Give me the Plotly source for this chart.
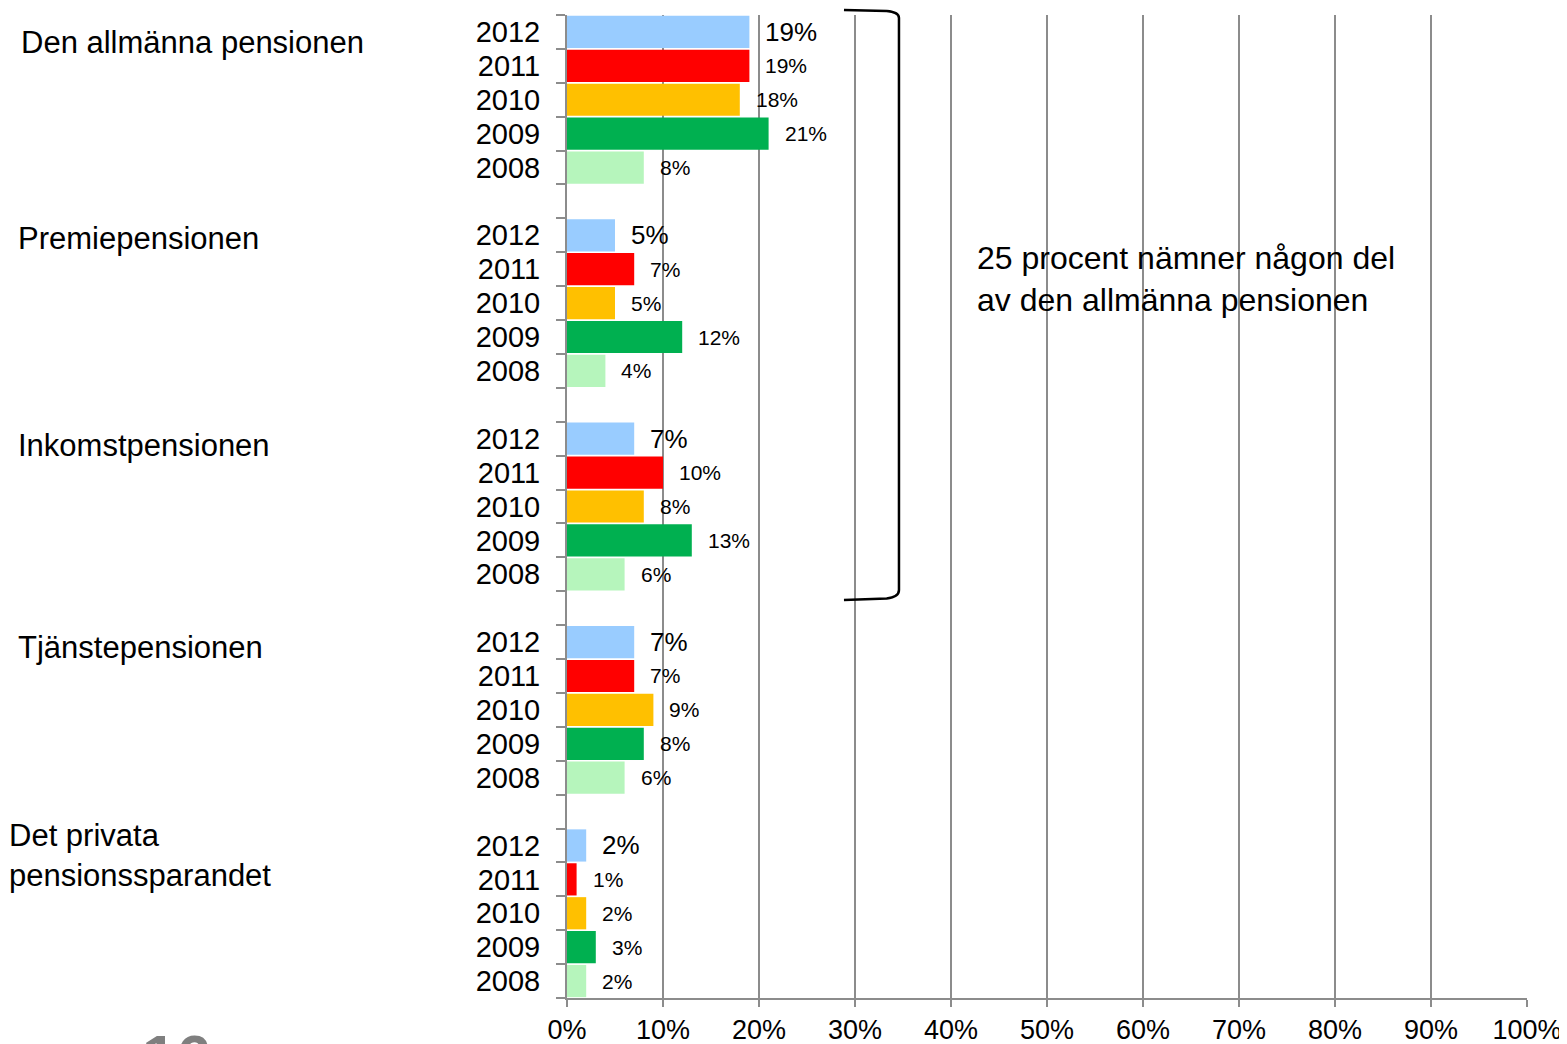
import plotly.graph_objects as go

# ---- data ----
groups = ["Den allmänna pensionen", "Premiepensionen", "Inkomstpensionen",
          "Tjänstepensionen", "Det privata<br>pensionssparandet"]
years = ["2012", "2011", "2010", "2009", "2008"]
vals_2012 = [19, 5, 7, 7, 2]
vals_2011 = [19, 7, 10, 7, 1]
vals_2010 = [18, 5, 8, 9, 2]
vals_2009 = [21, 12, 13, 8, 3]
vals_2008 = [8, 4, 6, 6, 2]
series = [vals_2012, vals_2011, vals_2010, vals_2009, vals_2008]
x_ticks = [0, 10, 20, 30, 40, 50, 60, 70, 80, 90, 100]
note_text = "25 procent nämner någon del<br>av den allmänna pensionen"
page_no = "16"

# ---- styles ----
colors = ["#99CCFF", "#FF0000", "#FFC000", "#00B050", "#B6F5BC"]
FONT = "Arial, Liberation Sans, sans-serif"
GRAY = "#8C8C8C"
SLOT = 6  # 5 years + 1 gap per group
PLOT_L, PLOT_T, PLOT_W, PLOT_H = 567, 15, 960, 983  # absolute page pixels of plot area

fig = go.Figure()
tickvals, ticktext = [], []
for k, (yr, vals, col) in enumerate(zip(years, series, colors)):
    ys = [g * SLOT + k for g in range(len(groups))]
    fig.add_trace(go.Bar(x=vals, y=ys, orientation="h", marker=dict(color=col, line=dict(width=0)),
                         showlegend=False, hoverinfo="x+y"))
    for g, v in enumerate(vals):
        tickvals.append(g * SLOT + k)
        ticktext.append(yr)
        fig.add_annotation(x=v, y=g * SLOT + k, xref="x", yref="y", text=f"{v}%",
                           showarrow=False, xanchor="left", yanchor="middle", xshift=14,
                           font=dict(family=FONT, size=26 if k == 0 else 21, color="black"))

n_slots = len(groups) * SLOT - 1
boundaries = [i - 0.5 for i in range(n_slots + 1)]

# group labels
group_px = [19, 16, 16, 16, 7]
group_dy = [0.3, 0.1, 0.2, 0.15, 0.3]
for g, name in enumerate(groups):
    fig.add_annotation(x=(group_px[g] - PLOT_L) / PLOT_W, xref="paper", y=g * SLOT + group_dy[g], yref="y",
                       text=name, showarrow=False, xanchor="left", yanchor="middle", align="left",
                       font=dict(family=FONT, size=31, color="black"))

# note text
fig.add_annotation(x=42.5, xref="x", y=7.3, yref="y", text=note_text, showarrow=False,
                   xanchor="left", yanchor="middle", align="left",
                   font=dict(family=FONT, size=32, color="black"))

# bracket (x in data units, y in paper units so it is not clipped)
def py(p):
    return 1 - (p - PLOT_T) / PLOT_H

fig.add_shape(type="path", xref="x", yref="paper",
              path=(f"M 28.85,{py(10)} L 33.3,{py(11)} Q 34.58,{py(12)} 34.58,{py(18)} "
                    f"L 34.58,{py(590)} Q 34.58,{py(597)} 33.3,{py(598.5)} L 28.85,{py(600)}"),
              line=dict(color="black", width=2.5))

# cut-off page number
fig.add_annotation(x=(140 - PLOT_L) / PLOT_W, xref="paper", y=-0.022, yref="paper", text=page_no,
                   showarrow=False, xanchor="left", yanchor="top",
                   font=dict(family=FONT, size=62, color="#7F7F7F", weight="bold"))

fig.update_layout(
    width=1559, height=1036, autosize=False,
    margin=dict(l=PLOT_L - 8, r=40, t=PLOT_T - 8, b=46, autoexpand=False),
    plot_bgcolor="white", paper_bgcolor="white",
    bargap=0.05,
    font=dict(family=FONT, color="black"),
    xaxis=dict(range=[0, 100], tickvals=x_ticks, ticktext=[f"{t}%" for t in x_ticks],
               automargin=False,
               showgrid=True, gridcolor=GRAY, gridwidth=1.5, zeroline=False,
               showline=True, linecolor=GRAY, linewidth=2,
               ticks="outside", ticklen=7, tickcolor=GRAY, tickwidth=2,
               tickfont=dict(family=FONT, size=27, color="black")),
    yaxis=dict(range=[n_slots - 0.5, -0.5], tickvals=tickvals, ticktext=ticktext,
               automargin=False,
               ticks="", showgrid=False, zeroline=False,
               showline=True, linecolor=GRAY, linewidth=2,
               ticklabelstandoff=19,
               tickfont=dict(family=FONT, size=29, color="black"),
               minor=dict(tickvals=boundaries, ticks="outside", ticklen=9,
                          tickcolor=GRAY, tickwidth=2, showgrid=False)),
)

fig.write_html("out.html")
